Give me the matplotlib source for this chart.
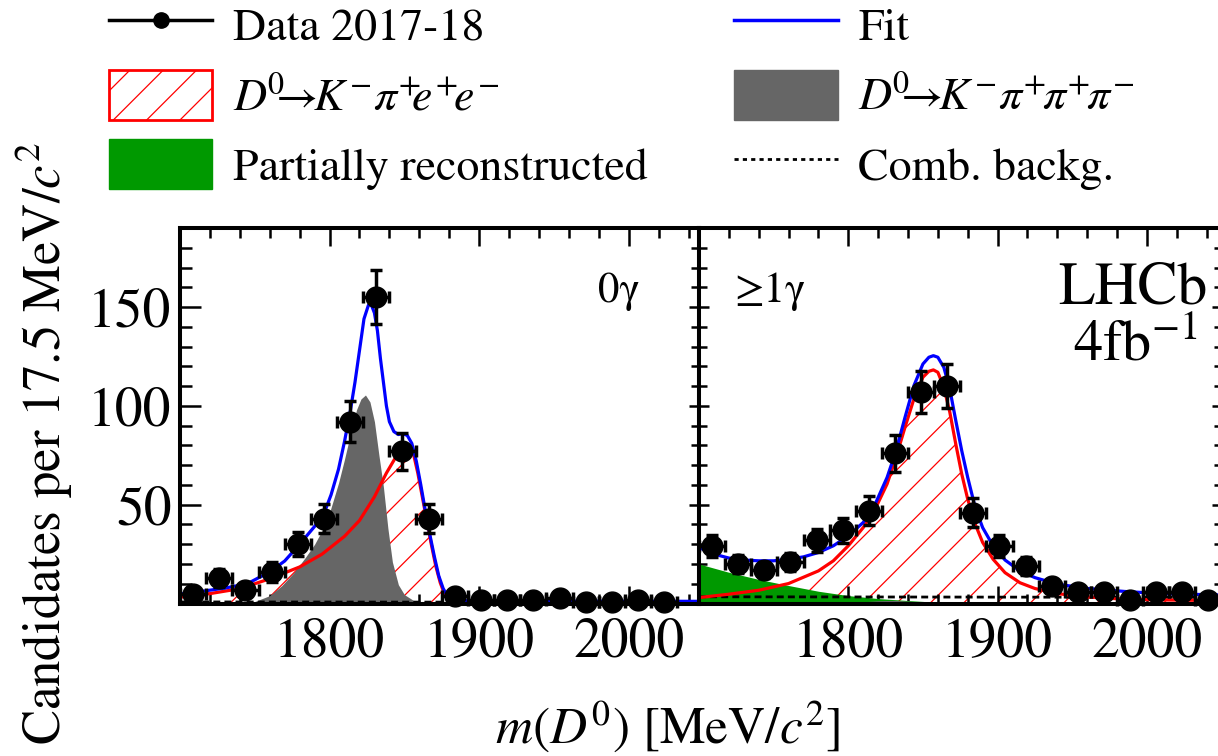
import matplotlib.pyplot as plt
from matplotlib.lines import Line2D
from matplotlib.patches import Patch
from matplotlib.ticker import FixedLocator, MultipleLocator

plt.rcParams['font.family'] = 'STIXGeneral'
plt.rcParams['mathtext.fontset'] = 'stix'
plt.rcParams['hatch.color'] = 'red'
plt.rcParams['hatch.linewidth'] = 0.9

GREY = '#666666'
GREEN = '#009900'

# bin centres, 17.5 MeV bins from 1700
bin_centres = [1708.75, 1726.25, 1743.75, 1761.25, 1778.75, 1796.25, 1813.75,
               1831.25, 1848.75, 1866.25, 1883.75, 1901.25, 1918.75, 1936.25,
               1953.75, 1971.25, 1988.75, 2006.25, 2023.75, 2041.25]
half_bin = 8.75

# ---- 0 gamma ----
counts_0g = [5, 13, 7, 16, 30, 43, 92, 155, 77, 43, 4, 2, 2, 2, 3, 1, 1, 2, 1]
errors_0g = [3, 4.5, 3.5, 5, 6, 7.5, 10.5, 13.5, 9.5, 7.5, 2.5, 2, 2, 2, 2.2,
             1.5, 1.5, 2, 1.5]

fit_0g_x = [1700, 1715, 1730, 1745, 1760, 1770, 1780, 1790, 1796, 1801, 1806,
            1810, 1814, 1817, 1820, 1823, 1826, 1828, 1830, 1832, 1834, 1836,
            1838, 1840, 1843, 1846, 1849, 1852, 1855, 1858, 1861, 1864, 1867,
            1870, 1873, 1876, 1879, 1883, 1890, 1950, 2050]
fit_0g_y = [4.8, 6.2, 7.8, 10.0, 16.0, 21.5, 30, 39, 45, 55, 68, 82, 98, 112,
            128, 144, 151, 151, 147, 138, 124, 112, 100, 92, 87, 85.5, 86, 85,
            81, 72, 60, 47, 35, 24, 14, 7.5, 3.8, 2.0, 1.4, 1.2, 1.1]

sig_0g_x = [1700, 1720, 1740, 1760, 1780, 1795, 1810, 1820, 1830, 1838, 1845,
            1850, 1853, 1856, 1859, 1862, 1865, 1868, 1871, 1874, 1877, 1880,
            1885, 1900, 2050]
sig_0g_y = [3.2, 5.0, 7.5, 12.5, 18.5, 25, 34, 42, 54, 66, 75, 79.5, 80, 76,
            66, 54, 42, 30, 19, 10.5, 4.5, 2.0, 0.8, 0.3, 0.1]

k3pi_0g_x = [1740, 1750, 1760, 1768, 1776, 1784, 1790, 1795, 1800, 1806, 1810,
             1814, 1818, 1821, 1824, 1827, 1830, 1833, 1836, 1839, 1842, 1846,
             1850, 1856, 1862, 1870]
k3pi_0g_y = [0, 1.0, 4.0, 9.0, 15.5, 23.5, 30, 37, 46, 61, 73, 86, 98, 103.5,
             105.5, 102, 92, 75, 59, 38, 21, 9.5, 4.5, 1.6, 0.5, 0]

comb_0g_x = [1700, 2050]
comb_0g_y = [0.8, 0.6]

# ---- >= 1 gamma ----
counts_1g = [29, 20, 17, 21, 32, 37, 47, 76, 107, 110, 46, 29, 19, 9, 6, 6, 2,
             6, 6, 2]
errors_1g = [5.5, 4.6, 4.2, 4.7, 5.8, 6.2, 7.2, 9.3, 10.6, 11, 7.2, 5.5, 4.5,
             3.2, 2.6, 2.6, 1.6, 2.6, 2.6, 1.6]

fit_1g_x = [1700, 1710, 1720, 1730, 1740, 1750, 1760, 1770, 1780, 1790, 1800,
            1810, 1818, 1826, 1832, 1838, 1844, 1850, 1854, 1857, 1860, 1864,
            1868, 1872, 1876, 1880, 1885, 1890, 1897, 1905, 1915, 1925, 1940,
            1960, 1985, 2010, 2050]
fit_1g_y = [28.3, 25.0, 23.0, 22.0, 21.6, 21.6, 22.4, 23.6, 25.8, 29.2, 34.2,
            41, 50.3, 63.8, 77.3, 94.2, 110.3, 121.2, 124.6, 125.4, 124.6,
            119.5, 108.5, 92.6, 77.3, 63.8, 48.6, 38.4, 29.2, 22, 16.5, 13.1,
            9.8, 7.6, 6.1, 5.0, 4.3]

sig_1g_x = [1700, 1720, 1740, 1760, 1780, 1790, 1800, 1810, 1818, 1826, 1832,
            1838, 1844, 1850, 1854, 1857, 1860, 1864, 1868, 1872, 1876, 1880,
            1885, 1890, 1897, 1905, 1915, 1925, 1940, 1960, 1985, 2010, 2050]
sig_1g_y = [3.0, 4.7, 6.7, 10.1, 16.5, 21.6, 29.2, 38.4, 47.8, 60.5, 74, 89.2,
            103.6, 114.5, 117.5, 118.2, 117, 109.5, 96.8, 80.7, 65.5, 52.8,
            40.2, 30.9, 22.4, 15.6, 10.5, 7.6, 5.0, 3.3, 2.2, 1.8, 1.5]

k3pi_1g_x = [1790, 1805, 1820, 1830, 1840, 1855, 1870]
k3pi_1g_y = [0, 0.6, 1.4, 1.6, 1.2, 0.4, 0]

partreco_1g_x = [1700, 1720, 1740, 1760, 1780, 1800, 1820, 1840, 1860, 1880]
partreco_1g_y = [20, 15.8, 12.2, 9.1, 6.2, 4.0, 2.5, 1.5, 0.6, 0]

comb_1g_x = [1700, 2050]
comb_1g_y = [3.4, 3.1]


def draw_panel(ax, counts, errors, fit, sig, k3pi, comb, partreco=None):
    ax.fill_between(sig[0], 0, sig[1], facecolor='none', edgecolor='red',
                    hatch='/', linewidth=0, zorder=1)
    if partreco is not None:
        ax.fill_between(partreco[0], 0, partreco[1], color=GREEN, lw=0, zorder=2)
    ax.fill_between(k3pi[0], 0, k3pi[1], color=GREY, lw=0, zorder=2)
    ax.plot(comb[0], comb[1], color='black', lw=2, ls=(0, (2.5, 1.5)), zorder=3)
    ax.plot(sig[0], sig[1], color='red', lw=2.3, zorder=4)
    ax.plot(fit[0], fit[1], color='blue', lw=2.3, zorder=5)
    eb = ax.errorbar(bin_centres[:len(counts)], counts, xerr=half_bin,
                     yerr=errors, fmt='o', color='black', ms=15,
                     elinewidth=2.5, capsize=4.5, capthick=2.5, zorder=10)
    for art in eb.get_children():
        art.set_clip_on(False)

    ax.set_ylim(0, 190)
    ax.xaxis.set_major_locator(FixedLocator([1800, 1900, 2000]))
    ax.xaxis.set_minor_locator(MultipleLocator(20))
    ax.yaxis.set_major_locator(FixedLocator([50, 100, 150]))
    ax.yaxis.set_minor_locator(MultipleLocator(10))
    for sp in ax.spines.values():
        sp.set_linewidth(2.9)
        sp.set_zorder(20)
    ax.tick_params(axis='x', which='both', direction='in', top=True,
                   bottom=True, width=1.8, labelsize=40, pad=10)
    ax.tick_params(axis='x', which='major', length=13)
    ax.tick_params(axis='x', which='minor', length=7)


fig = plt.figure(figsize=(12.18, 7.56), dpi=100)
W, H = 1218, 756
ax_l = fig.add_axes([180 / W, 1 - 603.5 / H, 519 / W, 375.5 / H])
ax_r = fig.add_axes([699 / W, 1 - 603.5 / H, 522.5 / W, 375.5 / H])

draw_panel(ax_l, counts_0g, errors_0g, (fit_0g_x, fit_0g_y),
           (sig_0g_x, sig_0g_y), (k3pi_0g_x, k3pi_0g_y), (comb_0g_x, comb_0g_y))
draw_panel(ax_r, counts_1g, errors_1g, (fit_1g_x, fit_1g_y),
           (sig_1g_x, sig_1g_y), (k3pi_1g_x, k3pi_1g_y), (comb_1g_x, comb_1g_y),
           partreco=(partreco_1g_x, partreco_1g_y))

ax_l.set_xlim(1700, 2047)
ax_r.set_xlim(1700, 2050)

ax_l.tick_params(axis='y', which='both', direction='in', left=True,
                 right=False, width=1.8, labelsize=40, pad=6)
ax_l.tick_params(axis='y', which='major', length=15)
ax_l.tick_params(axis='y', which='minor', length=8.5)

ax_r.tick_params(axis='y', which='both', direction='inout', left=True,
                 right=True, labelleft=False, width=1.8)
ax_r.tick_params(axis='y', which='major', length=15)
ax_r.tick_params(axis='y', which='minor', length=12)

ax_l.text(0.886, 0.803, '0γ', transform=ax_l.transAxes, ha='right',
          va='baseline', fontsize=31)
ax_r.text(0.067, 0.803, '≥1γ', transform=ax_r.transAxes, ha='left',
          va='baseline', fontsize=31)
ax_r.text(0.831, 0.80, 'LHCb', transform=ax_r.transAxes, ha='center',
          va='baseline', fontsize=43)
ax_r.text(0.836, 0.648, r'4fb$^{\mathregular{-1}}$', transform=ax_r.transAxes,
          ha='center', va='baseline', fontsize=42)

fig.text(44 / W, 1 - 443 / H, r'Candidates per 17.5 MeV/$c^2$', rotation=90,
         ha='center', va='center', fontsize=38)
fig.text(667 / W, 1 - 727 / H, r'$m(D^0)$ [MeV/$c^2$]', ha='center',
         va='center', fontsize=37)

handles = [Line2D([], [], color='black', marker='o', markersize=11, lw=2.5),
           Patch(facecolor='white', edgecolor='red', hatch='/', lw=2),
           Patch(facecolor=GREEN, edgecolor=GREEN),
           Line2D([], [], color='blue', lw=2.5),
           Patch(facecolor=GREY, edgecolor=GREY),
           Line2D([], [], color='black', lw=2, ls=(0, (1.5, 1.5)))]
labels = ['Data 2017-18',
          r'$D^{\!0}\!\!\!\rightarrow\!\!K^{\!-}\!\pi^{+}\!\!e^{\!+}\!\!e^{\!-}$',
          'Partially reconstructed',
          'Fit',
          r'$D^{\!0}\!\!\!\rightarrow\!\!K^{\!-}\!\pi^{+}\!\pi^{+}\!\pi^{-}$',
          'Comb. backg.']
fig.legend(handles, labels, ncol=2, loc='upper left',
           bbox_to_anchor=(109 / W, 1.0), frameon=False, fontsize=33,
           handlelength=2.25, handleheight=1.3, handletextpad=0.45,
           columnspacing=1.9, labelspacing=0.42, borderpad=0,
           borderaxespad=0)

fig.savefig('out.png', dpi=100)
